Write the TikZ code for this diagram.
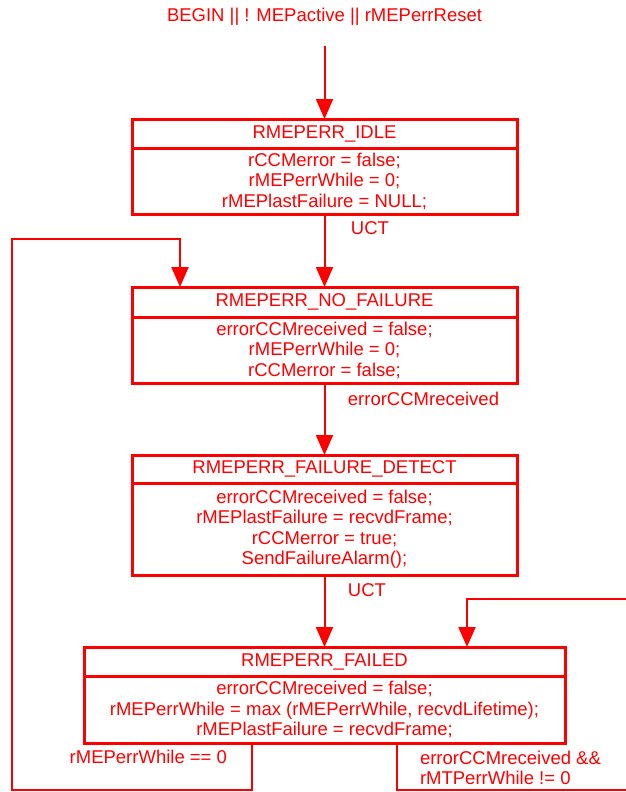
\documentclass[tikz,border=0pt]{standalone}
\usepackage{fontspec}
\setmainfont{Liberation Sans}
\usetikzlibrary{arrows.meta}
\definecolor{rd}{RGB}{255,0,0}
\begin{document}
\begin{tikzpicture}[x=1pt,y=-1pt,
  every node/.style={text=rd,font=\fontsize{18.5}{20.5}\selectfont,inner sep=0pt,outer sep=0pt},
  hdr/.style={draw=rd,line width=3pt,minimum height=29pt,anchor=north},
  bdy/.style={draw=rd,line width=3pt,anchor=north,align=center},
  conn/.style={draw=rd,line width=2pt},
  arr/.style={conn,-{Triangle[width=17pt,length=20pt]}}]
\useasboundingbox (0,0) rectangle (626,792);
\clip (0,0) rectangle (626,792);

\node (title) at (324.5,16.5) {BEGIN || ! MEPactive || rMEPerrReset};
\coordinate (st) at (324.5,46);

\node[hdr,minimum width=385pt] (idle) at (324.5,119) {RMEPERR\_IDLE};
\node[bdy,minimum width=385pt,minimum height=66pt] (idleb) at (idle.south) {rCCMerror = false;\\rMEPerrWhile = 0;\\rMEPlastFailure = NULL;};

\node[hdr,minimum width=385pt,minimum height=30pt] (nofail) at (324.5,287) {RMEPERR\_NO\_FAILURE};
\node[bdy,minimum width=385pt,minimum height=66pt] (nofailb) at (nofail.south) {errorCCMreceived = false;\\rMEPerrWhile = 0;\\rCCMerror = false;};

\node[hdr,minimum width=385pt,minimum height=28pt] (detect) at (324.5,455) {RMEPERR\_FAILURE\_DETECT};
\node[bdy,minimum width=385pt,minimum height=92pt] (detectb) at (detect.south) {errorCCMreceived = false;\\rMEPlastFailure = recvdFrame;\\rCCMerror = true;\\SendFailureAlarm();};

\node[hdr,minimum width=481pt] (failed) at (324.5,647) {RMEPERR\_FAILED};
\node[bdy,minimum width=481pt,minimum height=67pt] (failedb) at (failed.south) {errorCCMreceived = false;\\rMEPerrWhile = max (rMEPerrWhile, recvdLifetime);\\rMEPlastFailure = recvdFrame;};

\node (uct1) at (370,228.5) {UCT};
\node (ecr) at (423.5,398.5) {errorCCMreceived};
\node (uct2) at (367,590.5) {UCT};
\node[anchor=east] (zero) at (227,756.5) {rMEPerrWhile == 0};
\node[anchor=west,align=left] (cond) at (420,768) {errorCCMreceived \&\&\\rMTPerrWhile != 0};

\draw[arr] (st) -- (idle.north);
\draw[arr] (idleb.south) -- (nofail.north);
\draw[arr] (nofailb.south) -- (detect.north);
\draw[arr] (detectb.south) -- (failed.north);

\coordinate (l1) at (252,790);
\coordinate (l2) at (12,790);
\coordinate (l3) at (12,239);
\coordinate (l4) at (180,239);
\draw[arr] (failedb.south -| l1) -- (l1) -- (l2) -- (l3) -- (l4) -- (l4 |- nofail.north);

\coordinate (r1) at (397,790);
\coordinate (r2) at (640,790);
\coordinate (r3) at (640,599);
\coordinate (r4) at (467,599);
\draw[arr] (failedb.south -| r1) -- (r1) -- (r2) -- (r3) -- (r4) -- (r4 |- failed.north);
\end{tikzpicture}
\end{document}
